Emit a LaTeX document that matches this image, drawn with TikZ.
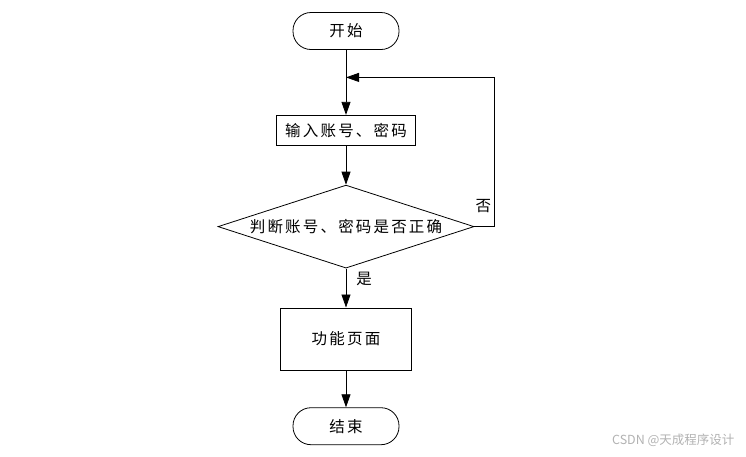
\documentclass[tikz,border=0pt]{standalone}
\usepackage{fontspec}
\newfontfamily\cjk[LetterSpace=14]{Noto Sans CJK SC}
\newfontfamily\wmfont{Noto Sans CJK SC}
\usetikzlibrary{positioning, shapes.geometric, arrows.meta}

\begin{document}
\begin{tikzpicture}[x=1pt, y=-1pt, font=\cjk\fontsize{15.5}{17}\selectfont,
    terminal/.style={rectangle, draw, line width=0.8pt, rounded corners=18pt, minimum width=106pt, minimum height=37pt},
    process/.style={rectangle, draw, line width=0.8pt, inner sep=0pt},
    decision/.style={diamond, draw, line width=0.8pt, aspect=3.08, inner sep=0pt, minimum width=256pt, minimum height=83pt},
    flow/.style={line width=0.8pt, -{Triangle[length=13pt, width=9pt]}},
    lbl/.style={inner sep=0pt}]
    \useasboundingbox (0,0) rectangle (746,456);

    % Inizio
    \node[terminal] (start) at (346,31) {开始};

    % Login
    \node[process, below=65pt of start, minimum width=139pt, minimum height=30pt] (input) {输入账号、密码};
    \coordinate (merge) at ([yshift=-27.5pt]start.south);

    % Verifica
    \node[decision, below=39pt of input] (check) {判断账号、密码是否正确};

    % Pagina funzioni
    \node[process, below=39pt of check, minimum width=131pt, minimum height=62pt] (func) {功能页面};

    % Fine
    \node[terminal, below=37pt of func] (end) {结束};

    \draw[flow] (start) -- (input);
    \draw[flow] (input) -- (check);
    \draw[flow] (check) -- node[lbl, pos=0.28, right=10pt] {是} (func);
    \draw[flow] (func) -- (end);
    \draw[flow] (check.east) -- ++(20pt,0) |- node[lbl, pos=0.07, left=3pt] {否} (merge);

    % watermark
    \node[text=gray!60, font=\wmfont\fontsize{12.5}{14}\selectfont, anchor=east] (wm) at (738,440) {CSDN @天成程序设计};
\end{tikzpicture}
\end{document}
